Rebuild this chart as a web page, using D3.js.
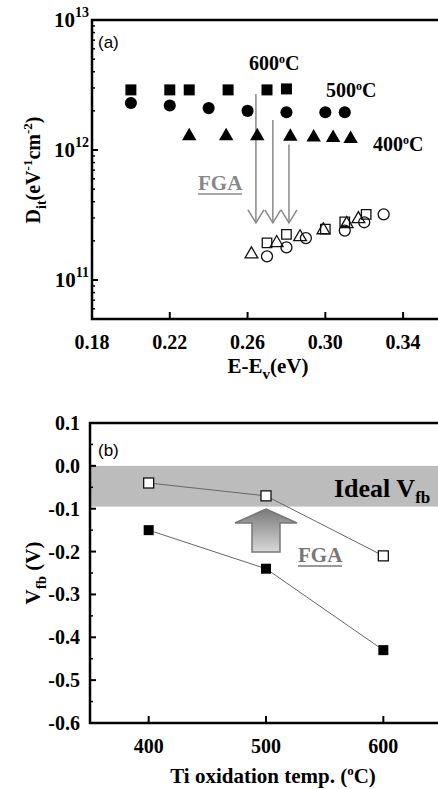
<!DOCTYPE html>
<html>
<head>
<meta charset="utf-8">
<script src="https://cdn.jsdelivr.net/npm/d3@7"></script>
<style>
  body { margin: 0; background: #fff; }
  svg text { font-family: "Liberation Serif", "Times New Roman", serif; font-weight: bold; }
</style>
</head>
<body>
<svg id="chart" width="438" height="789"></svg>
<script>
// ---- panel (a): Dit vs E-Ev ----
let eTicks = [0.18, 0.22, 0.26, 0.30, 0.34];
let ditDecades = [11, 12, 13];

let e600 = [0.20, 0.22, 0.23, 0.25, 0.27, 0.28];
let d600 = [2.9e12, 2.9e12, 2.9e12, 2.9e12, 2.9e12, 2.95e12];
let e500 = [0.20, 0.22, 0.24, 0.26, 0.28, 0.30, 0.31];
let d500 = [2.3e12, 2.2e12, 2.1e12, 2.0e12, 1.95e12, 1.95e12, 1.95e12];
let e400 = [0.23, 0.249, 0.265, 0.282, 0.294, 0.304, 0.313];
let d400 = [1.28e12, 1.28e12, 1.28e12, 1.27e12, 1.25e12, 1.24e12, 1.22e12];

let eFga400 = [0.262, 0.275, 0.287, 0.299, 0.311, 0.317];
let dFga400 = [1.58e11, 1.93e11, 2.14e11, 2.42e11, 2.7e11, 2.95e11];
let eFga600 = [0.27, 0.28, 0.30, 0.31, 0.321];
let dFga600 = [1.93e11, 2.24e11, 2.46e11, 2.8e11, 3.2e11];
let eFga500 = [0.27, 0.28, 0.29, 0.31, 0.32, 0.33];
let dFga500 = [1.52e11, 1.78e11, 2.1e11, 2.4e11, 2.78e11, 3.2e11];

let arrowE = [0.2643, 0.273, 0.2813];
let arrowTop = [2.7e12, 1.7e12, 1.1e12];
let arrowTip = 2.75e11;

// ---- panel (b): Vfb vs Ti oxidation temp ----
let temps = [400, 500, 600];
let vfbFga = [-0.04, -0.07, -0.21];
let vfbAsDep = [-0.15, -0.24, -0.43];
let vTicks = [0.1, 0.0, -0.1, -0.2, -0.3, -0.4, -0.5, -0.6];
let idealBand = [0.0, -0.095];

let svg = d3.select("#chart");

function zip(xs, ys) {
    return xs.map((x, i) => ({x: x, y: ys[i]}));
}

// ========== panel (a) ==========
let xa = d3.scaleLinear().domain([0.18, 0.36]).range([92, 442]);
let ya = d3.scaleLog().domain([Math.pow(10, 10.7), 1e13]).range([319, 20]);
let ga = svg.append("g");

// minor log ticks (inward)
let minor = [];
for (let d = 10; d <= 12; ++d) {
    for (let k = 2; k <= 9; ++k) {
        let v = k * Math.pow(10, d);
        if (v > ya.domain()[0]) minor.push(v);
    }
}
ga.selectAll(".mtick").data(minor).enter().append("line")
    .attr("x1", xa(0.18)).attr("x2", xa(0.18) + 3)
    .attr("y1", d => ya(d)).attr("y2", d => ya(d))
    .attr("stroke", "#000").attr("stroke-width", 1.5);
ga.selectAll(".Mtick").data(ditDecades).enter().append("line")
    .attr("x1", xa(0.18)).attr("x2", xa(0.18) + 6)
    .attr("y1", d => ya(Math.pow(10, d))).attr("y2", d => ya(Math.pow(10, d)))
    .attr("stroke", "#000").attr("stroke-width", 2);
ga.selectAll(".xtick").data(eTicks).enter().append("line")
    .attr("x1", d => xa(d)).attr("x2", d => xa(d))
    .attr("y1", 319).attr("y2", 312)
    .attr("stroke", "#000").attr("stroke-width", 2);

// frame
ga.append("path")
    .attr("d", `M${xa.range()[1]},${ya.range()[1]} H${xa(0.18)} V${ya.range()[0]} H${xa.range()[1]}`)
    .attr("fill", "none").attr("stroke", "#000").attr("stroke-width", 2.5);

// tick labels
ga.selectAll(".xl").data(eTicks).enter().append("text")
    .attr("x", d => xa(d)).attr("y", 349)
    .attr("text-anchor", "middle").attr("font-size", 20)
    .text(d => d.toFixed(2));
let yl = ga.selectAll(".yl").data(ditDecades).enter().append("text")
    .attr("x", 89).attr("y", d => ya(Math.pow(10, d)) + 7)
    .attr("text-anchor", "end").attr("font-size", 21);
yl.append("tspan").text("10");
yl.append("tspan").attr("dy", -10).attr("font-size", 14).text(d => d);

// arrows (FGA)
ga.selectAll(".arr").data(arrowE).enter().append("line")
    .attr("x1", d => xa(d)).attr("x2", d => xa(d))
    .attr("y1", (d, i) => ya(arrowTop[i])).attr("y2", ya(arrowTip))
    .attr("stroke", "#888").attr("stroke-width", 1.5);
ga.selectAll(".arrh").data(arrowE).enter().append("path")
    .attr("d", d => `M${xa(d) - 8},${ya(arrowTip) - 13} L${xa(d)},${ya(arrowTip)} L${xa(d) + 8},${ya(arrowTip) - 13}`)
    .attr("fill", "none").attr("stroke", "#888").attr("stroke-width", 1.5);

// markers
let sq = d3.symbol().type(d3.symbolSquare);
let ci = d3.symbol().type(d3.symbolCircle);
let tr = d3.symbol().type(d3.symbolTriangle);

function drawSym(g, pts, sx, sy, sym, size, fill, stroke) {
    g.append("g").selectAll("path").data(pts).enter().append("path")
        .attr("transform", d => `translate(${sx(d.x)},${sy(d.y)})`)
        .attr("d", sym.size(size)())
        .attr("fill", fill)
        .attr("stroke", stroke ? "#111" : "none")
        .attr("stroke-width", stroke ? 1.3 : 0);
}
drawSym(ga, zip(e600, d600), xa, ya, sq, 121, "#000", false);
drawSym(ga, zip(e500, d500), xa, ya, ci, 115, "#000", false);
drawSym(ga, zip(e400, d400), xa, ya, tr, 90, "#000", false);
drawSym(ga, zip(eFga400, dFga400), xa, ya, tr, 70, "none", true);
drawSym(ga, zip(eFga600, dFga600), xa, ya, sq, 90, "none", true);
drawSym(ga, zip(eFga500, dFga500), xa, ya, ci, 95, "none", true);

// annotations
ga.append("text").attr("x", 98).attr("y", 48)
    .style("font-family", "'Liberation Sans', Arial, sans-serif").style("font-weight", "normal")
    .attr("font-size", 17).text("(a)");
function degLabel(g, x, y, t) {
    let tx = g.append("text").attr("x", x).attr("y", y).attr("font-size", 20);
    tx.append("tspan").text(t);
    tx.append("tspan").attr("dy", -7).attr("font-size", 12).text("o");
    tx.append("tspan").attr("dy", 7).text("C");
}
degLabel(ga, 249, 70, "600");
degLabel(ga, 326, 97, "500");
degLabel(ga, 373, 151, "400");
ga.append("text").attr("x", 198).attr("y", 190).attr("font-size", 21)
    .attr("fill", "#888").text("FGA");
ga.append("line").attr("x1", 198).attr("x2", 242).attr("y1", 194).attr("y2", 194)
    .attr("stroke", "#888").attr("stroke-width", 1.5);

// axis titles
let xta = ga.append("text").attr("x", 268).attr("y", 373)
    .attr("text-anchor", "middle").attr("font-size", 21);
xta.append("tspan").text("E-E");
xta.append("tspan").attr("dy", 6).attr("font-size", 15).text("v");
xta.append("tspan").attr("dy", -6).text("(eV)");
let yta = ga.append("text").attr("transform", "translate(40,170) rotate(-90)")
    .attr("text-anchor", "middle").attr("font-size", 20);
yta.append("tspan").text("D");
yta.append("tspan").attr("dy", 6).attr("font-size", 14).text("it");
yta.append("tspan").attr("dy", -6).text("(eV");
yta.append("tspan").attr("dy", -8).attr("font-size", 13).text("-1");
yta.append("tspan").attr("dy", 8).text("cm");
yta.append("tspan").attr("dy", -8).attr("font-size", 13).text("-2");
yta.append("tspan").attr("dy", 8).text(")");

// ========== panel (b) ==========
let xb = d3.scaleLinear().domain([350, 650]).range([90, 442]);
let yb = d3.scaleLinear().domain([-0.6, 0.1]).range([723, 423]);
let gb = svg.append("g");

// ideal band
gb.append("rect")
    .attr("x", xb(350)).attr("width", xb(650) - xb(350))
    .attr("y", yb(idealBand[0])).attr("height", yb(idealBand[1]) - yb(idealBand[0]))
    .attr("fill", "#bcbcbc");

gb.selectAll(".mt").data(d3.range(1, 14, 2).map(i => -0.6 + i * 0.05)).enter().append("line")
    .attr("x1", xb(350)).attr("x2", xb(350) + 3)
    .attr("y1", d => yb(d)).attr("y2", d => yb(d))
    .attr("stroke", "#000").attr("stroke-width", 1.5);
gb.selectAll(".Mt").data(vTicks).enter().append("line")
    .attr("x1", xb(350)).attr("x2", xb(350) + 6)
    .attr("y1", d => yb(d)).attr("y2", d => yb(d))
    .attr("stroke", "#000").attr("stroke-width", 2);
gb.selectAll(".xt").data(temps).enter().append("line")
    .attr("x1", d => xb(d)).attr("x2", d => xb(d))
    .attr("y1", 723).attr("y2", 716)
    .attr("stroke", "#000").attr("stroke-width", 2);

gb.append("path")
    .attr("d", `M${xb.range()[1]},${yb.range()[1]} H${xb(350)} V${yb.range()[0]} H${xb.range()[1]}`)
    .attr("fill", "none").attr("stroke", "#000").attr("stroke-width", 2.5);

gb.selectAll(".xl").data(temps).enter().append("text")
    .attr("x", d => xb(d)).attr("y", 753)
    .attr("text-anchor", "middle").attr("font-size", 20).text(d => d);
gb.selectAll(".yl").data(vTicks).enter().append("text")
    .attr("x", 80).attr("y", d => yb(d) + 7)
    .attr("text-anchor", "end").attr("font-size", 20)
    .text(d => d3.format(".1f")(d).replace("−", "-"));

// lines + markers
let lineB = d3.line().x(d => xb(d.x)).y(d => yb(d.y));
gb.append("path").datum(zip(temps, vfbFga)).attr("d", lineB)
    .attr("fill", "none").attr("stroke", "#666").attr("stroke-width", 1);
gb.append("path").datum(zip(temps, vfbAsDep)).attr("d", lineB)
    .attr("fill", "none").attr("stroke", "#666").attr("stroke-width", 1);
gb.append("g").selectAll("rect").data(zip(temps, vfbFga)).enter().append("rect")
    .attr("x", d => xb(d.x) - 5).attr("y", d => yb(d.y) - 5)
    .attr("width", 10).attr("height", 10)
    .attr("fill", "#fff").attr("stroke", "#111").attr("stroke-width", 1.3);
gb.append("g").selectAll("rect").data(zip(temps, vfbAsDep)).enter().append("rect")
    .attr("x", d => xb(d.x) - 5).attr("y", d => yb(d.y) - 5)
    .attr("width", 10).attr("height", 10)
    .attr("fill", "#000");

// big gradient arrow
let defs = svg.append("defs");
let grad = defs.append("linearGradient").attr("id", "arrGrad")
    .attr("x1", 0).attr("y1", 0).attr("x2", 0).attr("y2", 1);
grad.append("stop").attr("offset", "0%").attr("stop-color", "#7a7a7a");
grad.append("stop").attr("offset", "100%").attr("stop-color", "#d8d8d8");
let ax = xb(500);
gb.append("path")
    .attr("d", `M${ax},509 L${ax + 31},523 L${ax + 14},523 L${ax + 14},552 L${ax - 14},552 L${ax - 14},523 L${ax - 31},523 Z`)
    .attr("fill", "url(#arrGrad)").attr("stroke", "#777").attr("stroke-width", 1.5);

gb.append("text").attr("x", 298).attr("y", 562).attr("font-size", 21)
    .attr("fill", "#777").text("FGA");
gb.append("line").attr("x1", 298).attr("x2", 342).attr("y1", 566).attr("y2", 566)
    .attr("stroke", "#777").attr("stroke-width", 1.5);

gb.append("text").attr("x", 98).attr("y", 456)
    .style("font-family", "'Liberation Sans', Arial, sans-serif").style("font-weight", "normal")
    .attr("font-size", 17).text("(b)");

let ideal = gb.append("text").attr("x", 334).attr("y", 497).attr("font-size", 26);
ideal.append("tspan").text("Ideal V");
ideal.append("tspan").attr("dy", 6).attr("font-size", 17).text("fb");

let xtb = gb.append("text").attr("x", 273).attr("y", 783)
    .attr("text-anchor", "middle").attr("font-size", 21);
xtb.append("tspan").text("Ti oxidation temp. (");
xtb.append("tspan").attr("dy", -8).attr("font-size", 13).text("o");
xtb.append("tspan").attr("dy", 8).text("C)");

let ytb = gb.append("text").attr("transform", "translate(40,573) rotate(-90)")
    .attr("text-anchor", "middle").attr("font-size", 21);
ytb.append("tspan").text("V");
ytb.append("tspan").attr("dy", 6).attr("font-size", 15).text("fb");
ytb.append("tspan").attr("dy", -6).text(" (V)");
</script>
</body>
</html>
